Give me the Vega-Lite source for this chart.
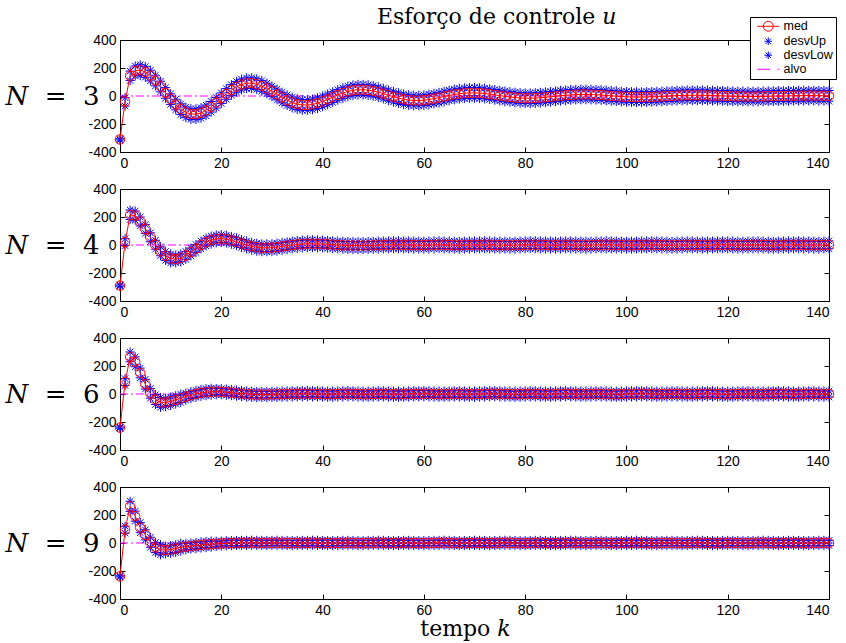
{
"$schema":"https://vega.github.io/schema/vega-lite/v6.json",
"background":"white",
"padding":{"left":4,"top":6,"right":4,"bottom":2},
"title":{"text":"Esforço de controle 𝑢","font":"DejaVu Serif","fontSize":22,"fontWeight":"normal","color":"black","anchor":"start","frame":"group","dx":257,"offset":-13},
"data":{"values":[
{"N":3,"k":0,"m":-310,"u":-305,"l":-314},{"N":3,"k":1,"m":-40,"u":-12,"l":-72},{"N":3,"k":2,"m":145,"u":178,"l":110},{"N":3,"k":3,"m":180,"u":215,"l":143},{"N":3,"k":4,"m":185,"u":223,"l":147},{"N":3,"k":5,"m":172,"u":210,"l":134},{"N":3,"k":6,"m":146,"u":184,"l":108},{"N":3,"k":7,"m":110,"u":148,"l":72},{"N":3,"k":8,"m":68,"u":106,"l":30},{"N":3,"k":9,"m":22,"u":60,"l":-16},
{"N":3,"k":10,"m":-22,"u":16,"l":-60},{"N":3,"k":11,"m":-61,"u":-23,"l":-99},{"N":3,"k":12,"m":-94,"u":-56,"l":-132},{"N":3,"k":13,"m":-117,"u":-79,"l":-155},{"N":3,"k":14,"m":-129,"u":-91,"l":-167},{"N":3,"k":15,"m":-130,"u":-92,"l":-168},{"N":3,"k":16,"m":-121,"u":-83,"l":-159},{"N":3,"k":17,"m":-103,"u":-65,"l":-141},{"N":3,"k":18,"m":-77,"u":-39,"l":-115},{"N":3,"k":19,"m":-48,"u":-10,"l":-86},
{"N":3,"k":20,"m":-16,"u":22,"l":-54},{"N":3,"k":21,"m":15,"u":53,"l":-23},{"N":3,"k":22,"m":43,"u":81,"l":5},{"N":3,"k":23,"m":66,"u":104,"l":28},{"N":3,"k":24,"m":82,"u":120,"l":44},{"N":3,"k":25,"m":91,"u":129,"l":53},{"N":3,"k":26,"m":92,"u":130,"l":54},{"N":3,"k":27,"m":85,"u":123,"l":47},{"N":3,"k":28,"m":72,"u":110,"l":34},{"N":3,"k":29,"m":54,"u":92,"l":16},
{"N":3,"k":30,"m":33,"u":71,"l":-5},{"N":3,"k":31,"m":11,"u":49,"l":-27},{"N":3,"k":32,"m":-11,"u":27,"l":-49},{"N":3,"k":33,"m":-30,"u":8,"l":-68},{"N":3,"k":34,"m":-46,"u":-8,"l":-84},{"N":3,"k":35,"m":-58,"u":-20,"l":-96},{"N":3,"k":36,"m":-64,"u":-26,"l":-102},{"N":3,"k":37,"m":-64,"u":-26,"l":-102},{"N":3,"k":38,"m":-60,"u":-22,"l":-98},{"N":3,"k":39,"m":-51,"u":-13,"l":-89},
{"N":3,"k":40,"m":-38,"u":0,"l":-76},{"N":3,"k":41,"m":-24,"u":14,"l":-62},{"N":3,"k":42,"m":-8,"u":30,"l":-46},{"N":3,"k":43,"m":8,"u":46,"l":-30},{"N":3,"k":44,"m":21,"u":59,"l":-17},{"N":3,"k":45,"m":33,"u":71,"l":-5},{"N":3,"k":46,"m":41,"u":79,"l":3},{"N":3,"k":47,"m":45,"u":83,"l":7},{"N":3,"k":48,"m":45,"u":83,"l":7},{"N":3,"k":49,"m":42,"u":80,"l":4},
{"N":3,"k":50,"m":36,"u":74,"l":-2},{"N":3,"k":51,"m":27,"u":65,"l":-11},{"N":3,"k":52,"m":17,"u":55,"l":-21},{"N":3,"k":53,"m":5,"u":43,"l":-33},{"N":3,"k":54,"m":-5,"u":33,"l":-43},{"N":3,"k":55,"m":-15,"u":23,"l":-53},{"N":3,"k":56,"m":-23,"u":15,"l":-61},{"N":3,"k":57,"m":-29,"u":9,"l":-67},{"N":3,"k":58,"m":-32,"u":6,"l":-70},{"N":3,"k":59,"m":-32,"u":6,"l":-70},
{"N":3,"k":60,"m":-30,"u":8,"l":-68},{"N":3,"k":61,"m":-25,"u":13,"l":-63},{"N":3,"k":62,"m":-19,"u":19,"l":-57},{"N":3,"k":63,"m":-12,"u":26,"l":-50},{"N":3,"k":64,"m":-4,"u":34,"l":-42},{"N":3,"k":65,"m":4,"u":42,"l":-34},{"N":3,"k":66,"m":11,"u":49,"l":-27},{"N":3,"k":67,"m":16,"u":54,"l":-22},{"N":3,"k":68,"m":20,"u":58,"l":-18},{"N":3,"k":69,"m":22,"u":60,"l":-16},
{"N":3,"k":70,"m":22,"u":60,"l":-16},{"N":3,"k":71,"m":21,"u":59,"l":-17},{"N":3,"k":72,"m":18,"u":56,"l":-20},{"N":3,"k":73,"m":13,"u":51,"l":-25},{"N":3,"k":74,"m":8,"u":46,"l":-30},{"N":3,"k":75,"m":3,"u":41,"l":-35},{"N":3,"k":76,"m":-3,"u":35,"l":-41},{"N":3,"k":77,"m":-7,"u":31,"l":-45},{"N":3,"k":78,"m":-11,"u":27,"l":-49},{"N":3,"k":79,"m":-14,"u":24,"l":-52},
{"N":3,"k":80,"m":-16,"u":22,"l":-54},{"N":3,"k":81,"m":-16,"u":22,"l":-54},{"N":3,"k":82,"m":-15,"u":23,"l":-53},{"N":3,"k":83,"m":-12,"u":26,"l":-50},{"N":3,"k":84,"m":-9,"u":29,"l":-47},{"N":3,"k":85,"m":-6,"u":32,"l":-44},{"N":3,"k":86,"m":-2,"u":36,"l":-40},{"N":3,"k":87,"m":2,"u":40,"l":-36},{"N":3,"k":88,"m":5,"u":43,"l":-33},{"N":3,"k":89,"m":8,"u":46,"l":-30},
{"N":3,"k":90,"m":10,"u":48,"l":-28},{"N":3,"k":91,"m":11,"u":49,"l":-27},{"N":3,"k":92,"m":11,"u":49,"l":-27},{"N":3,"k":93,"m":10,"u":48,"l":-28},{"N":3,"k":94,"m":9,"u":47,"l":-29},{"N":3,"k":95,"m":7,"u":45,"l":-31},{"N":3,"k":96,"m":4,"u":42,"l":-34},{"N":3,"k":97,"m":1,"u":39,"l":-37},{"N":3,"k":98,"m":-1,"u":37,"l":-39},{"N":3,"k":99,"m":-4,"u":34,"l":-42},
{"N":3,"k":100,"m":-6,"u":32,"l":-44},{"N":3,"k":101,"m":-7,"u":31,"l":-45},{"N":3,"k":102,"m":-8,"u":30,"l":-46},{"N":3,"k":103,"m":-8,"u":30,"l":-46},{"N":3,"k":104,"m":-7,"u":31,"l":-45},{"N":3,"k":105,"m":-6,"u":32,"l":-44},{"N":3,"k":106,"m":-5,"u":33,"l":-43},{"N":3,"k":107,"m":-3,"u":35,"l":-41},{"N":3,"k":108,"m":-1,"u":37,"l":-39},{"N":3,"k":109,"m":1,"u":39,"l":-37},
{"N":3,"k":110,"m":3,"u":41,"l":-35},{"N":3,"k":111,"m":4,"u":42,"l":-34},{"N":3,"k":112,"m":5,"u":43,"l":-33},{"N":3,"k":113,"m":5,"u":43,"l":-33},{"N":3,"k":114,"m":5,"u":43,"l":-33},{"N":3,"k":115,"m":5,"u":43,"l":-33},{"N":3,"k":116,"m":4,"u":42,"l":-34},{"N":3,"k":117,"m":3,"u":41,"l":-35},{"N":3,"k":118,"m":2,"u":40,"l":-36},{"N":3,"k":119,"m":1,"u":39,"l":-37},
{"N":3,"k":120,"m":-1,"u":37,"l":-39},{"N":3,"k":121,"m":-2,"u":36,"l":-40},{"N":3,"k":122,"m":-3,"u":35,"l":-41},{"N":3,"k":123,"m":-3,"u":35,"l":-41},{"N":3,"k":124,"m":-4,"u":34,"l":-42},{"N":3,"k":125,"m":-4,"u":34,"l":-42},{"N":3,"k":126,"m":-4,"u":34,"l":-42},{"N":3,"k":127,"m":-3,"u":35,"l":-41},{"N":3,"k":128,"m":-2,"u":36,"l":-40},{"N":3,"k":129,"m":-1,"u":37,"l":-39},
{"N":3,"k":130,"m":0,"u":38,"l":-38},{"N":3,"k":131,"m":0,"u":38,"l":-38},{"N":3,"k":132,"m":1,"u":39,"l":-37},{"N":3,"k":133,"m":2,"u":40,"l":-36},{"N":3,"k":134,"m":2,"u":40,"l":-36},{"N":3,"k":135,"m":3,"u":41,"l":-35},{"N":3,"k":136,"m":3,"u":41,"l":-35},{"N":3,"k":137,"m":3,"u":41,"l":-35},{"N":3,"k":138,"m":2,"u":40,"l":-36},{"N":3,"k":139,"m":2,"u":40,"l":-36},{"N":3,"k":140,"m":1,"u":39,"l":-37},
{"N":4,"k":0,"m":-290,"u":-286,"l":-294},{"N":4,"k":1,"m":20,"u":45,"l":-5},{"N":4,"k":2,"m":215,"u":250,"l":182},{"N":4,"k":3,"m":210,"u":243,"l":177},{"N":4,"k":4,"m":168,"u":200,"l":136},{"N":4,"k":5,"m":115,"u":147,"l":83},{"N":4,"k":6,"m":55,"u":87,"l":23},{"N":4,"k":7,"m":2,"u":34,"l":-30},{"N":4,"k":8,"m":-45,"u":-13,"l":-77},{"N":4,"k":9,"m":-78,"u":-46,"l":-110},
{"N":4,"k":10,"m":-96,"u":-64,"l":-128},{"N":4,"k":11,"m":-100,"u":-72,"l":-128},{"N":4,"k":12,"m":-92,"u":-64,"l":-120},{"N":4,"k":13,"m":-74,"u":-46,"l":-102},{"N":4,"k":14,"m":-50,"u":-22,"l":-78},{"N":4,"k":15,"m":-25,"u":3,"l":-53},{"N":4,"k":16,"m":0,"u":28,"l":-28},{"N":4,"k":17,"m":21,"u":49,"l":-7},{"N":4,"k":18,"m":35,"u":63,"l":7},{"N":4,"k":19,"m":44,"u":72,"l":16},
{"N":4,"k":20,"m":46,"u":74,"l":18},{"N":4,"k":21,"m":42,"u":70,"l":14},{"N":4,"k":22,"m":33,"u":61,"l":5},{"N":4,"k":23,"m":23,"u":51,"l":-5},{"N":4,"k":24,"m":11,"u":39,"l":-17},{"N":4,"k":25,"m":0,"u":28,"l":-28},{"N":4,"k":26,"m":-9,"u":19,"l":-37},{"N":4,"k":27,"m":-16,"u":12,"l":-44},{"N":4,"k":28,"m":-20,"u":8,"l":-48},{"N":4,"k":29,"m":-20,"u":8,"l":-48},
{"N":4,"k":30,"m":-19,"u":9,"l":-47},{"N":4,"k":31,"m":-15,"u":13,"l":-43},{"N":4,"k":32,"m":-10,"u":18,"l":-38},{"N":4,"k":33,"m":-5,"u":23,"l":-33},{"N":4,"k":34,"m":0,"u":28,"l":-28},{"N":4,"k":35,"m":4,"u":32,"l":-24},{"N":4,"k":36,"m":7,"u":35,"l":-21},{"N":4,"k":37,"m":9,"u":37,"l":-19},{"N":4,"k":38,"m":9,"u":37,"l":-19},{"N":4,"k":39,"m":8,"u":36,"l":-20},
{"N":4,"k":40,"m":7,"u":35,"l":-21},{"N":4,"k":41,"m":5,"u":33,"l":-23},{"N":4,"k":42,"m":2,"u":30,"l":-26},{"N":4,"k":43,"m":0,"u":28,"l":-28},{"N":4,"k":44,"m":-2,"u":26,"l":-30},{"N":4,"k":45,"m":-3,"u":25,"l":-31},{"N":4,"k":46,"m":-4,"u":24,"l":-32},{"N":4,"k":47,"m":-4,"u":24,"l":-32},{"N":4,"k":48,"m":-4,"u":24,"l":-32},{"N":4,"k":49,"m":-3,"u":25,"l":-31},
{"N":4,"k":50,"m":-2,"u":26,"l":-30},{"N":4,"k":51,"m":-1,"u":27,"l":-29},{"N":4,"k":52,"m":0,"u":28,"l":-28},{"N":4,"k":53,"m":1,"u":29,"l":-27},{"N":4,"k":54,"m":2,"u":30,"l":-26},{"N":4,"k":55,"m":2,"u":30,"l":-26},{"N":4,"k":56,"m":1,"u":29,"l":-27},{"N":4,"k":57,"m":1,"u":29,"l":-27},{"N":4,"k":58,"m":0,"u":28,"l":-28},{"N":4,"k":59,"m":-1,"u":27,"l":-29},
{"N":4,"k":60,"m":-1,"u":27,"l":-29},{"N":4,"k":61,"m":0,"u":28,"l":-28},{"N":4,"k":62,"m":1,"u":29,"l":-27},{"N":4,"k":63,"m":2,"u":30,"l":-26},{"N":4,"k":64,"m":1,"u":29,"l":-27},{"N":4,"k":65,"m":0,"u":28,"l":-28},{"N":4,"k":66,"m":-1,"u":27,"l":-29},{"N":4,"k":67,"m":-2,"u":26,"l":-30},{"N":4,"k":68,"m":-1,"u":27,"l":-29},{"N":4,"k":69,"m":0,"u":28,"l":-28},
{"N":4,"k":70,"m":1,"u":29,"l":-27},{"N":4,"k":71,"m":1,"u":29,"l":-27},{"N":4,"k":72,"m":2,"u":30,"l":-26},{"N":4,"k":73,"m":1,"u":29,"l":-27},{"N":4,"k":74,"m":0,"u":28,"l":-28},{"N":4,"k":75,"m":-1,"u":27,"l":-29},{"N":4,"k":76,"m":-1,"u":27,"l":-29},{"N":4,"k":77,"m":-2,"u":26,"l":-30},{"N":4,"k":78,"m":-1,"u":27,"l":-29},{"N":4,"k":79,"m":0,"u":28,"l":-28},
{"N":4,"k":80,"m":1,"u":29,"l":-27},{"N":4,"k":81,"m":2,"u":30,"l":-26},{"N":4,"k":82,"m":2,"u":30,"l":-26},{"N":4,"k":83,"m":1,"u":29,"l":-27},{"N":4,"k":84,"m":0,"u":28,"l":-28},{"N":4,"k":85,"m":-1,"u":27,"l":-29},{"N":4,"k":86,"m":-1,"u":27,"l":-29},{"N":4,"k":87,"m":0,"u":28,"l":-28},{"N":4,"k":88,"m":1,"u":29,"l":-27},{"N":4,"k":89,"m":1,"u":29,"l":-27},
{"N":4,"k":90,"m":0,"u":28,"l":-28},{"N":4,"k":91,"m":-1,"u":27,"l":-29},{"N":4,"k":92,"m":-2,"u":26,"l":-30},{"N":4,"k":93,"m":-1,"u":27,"l":-29},{"N":4,"k":94,"m":0,"u":28,"l":-28},{"N":4,"k":95,"m":1,"u":29,"l":-27},{"N":4,"k":96,"m":2,"u":30,"l":-26},{"N":4,"k":97,"m":1,"u":29,"l":-27},{"N":4,"k":98,"m":0,"u":28,"l":-28},{"N":4,"k":99,"m":0,"u":28,"l":-28},
{"N":4,"k":100,"m":-1,"u":27,"l":-29},{"N":4,"k":101,"m":-1,"u":27,"l":-29},{"N":4,"k":102,"m":0,"u":28,"l":-28},{"N":4,"k":103,"m":1,"u":29,"l":-27},{"N":4,"k":104,"m":1,"u":29,"l":-27},{"N":4,"k":105,"m":2,"u":30,"l":-26},{"N":4,"k":106,"m":1,"u":29,"l":-27},{"N":4,"k":107,"m":0,"u":28,"l":-28},{"N":4,"k":108,"m":-1,"u":27,"l":-29},{"N":4,"k":109,"m":-2,"u":26,"l":-30},
{"N":4,"k":110,"m":-1,"u":27,"l":-29},{"N":4,"k":111,"m":0,"u":28,"l":-28},{"N":4,"k":112,"m":1,"u":29,"l":-27},{"N":4,"k":113,"m":1,"u":29,"l":-27},{"N":4,"k":114,"m":0,"u":28,"l":-28},{"N":4,"k":115,"m":-1,"u":27,"l":-29},{"N":4,"k":116,"m":-1,"u":27,"l":-29},{"N":4,"k":117,"m":0,"u":28,"l":-28},{"N":4,"k":118,"m":1,"u":29,"l":-27},{"N":4,"k":119,"m":2,"u":30,"l":-26},
{"N":4,"k":120,"m":1,"u":29,"l":-27},{"N":4,"k":121,"m":0,"u":28,"l":-28},{"N":4,"k":122,"m":-1,"u":27,"l":-29},{"N":4,"k":123,"m":-1,"u":27,"l":-29},{"N":4,"k":124,"m":0,"u":28,"l":-28},{"N":4,"k":125,"m":1,"u":29,"l":-27},{"N":4,"k":126,"m":1,"u":29,"l":-27},{"N":4,"k":127,"m":0,"u":28,"l":-28},{"N":4,"k":128,"m":-1,"u":27,"l":-29},{"N":4,"k":129,"m":-2,"u":26,"l":-30},
{"N":4,"k":130,"m":-1,"u":27,"l":-29},{"N":4,"k":131,"m":0,"u":28,"l":-28},{"N":4,"k":132,"m":1,"u":29,"l":-27},{"N":4,"k":133,"m":1,"u":29,"l":-27},{"N":4,"k":134,"m":2,"u":30,"l":-26},{"N":4,"k":135,"m":1,"u":29,"l":-27},{"N":4,"k":136,"m":0,"u":28,"l":-28},{"N":4,"k":137,"m":-1,"u":27,"l":-29},{"N":4,"k":138,"m":-1,"u":27,"l":-29},{"N":4,"k":139,"m":0,"u":28,"l":-28},{"N":4,"k":140,"m":1,"u":29,"l":-27},
{"N":6,"k":0,"m":-240,"u":-236,"l":-244},{"N":6,"k":1,"m":85,"u":110,"l":60},{"N":6,"k":2,"m":265,"u":300,"l":230},{"N":6,"k":3,"m":230,"u":265,"l":195},{"N":6,"k":4,"m":150,"u":185,"l":115},{"N":6,"k":5,"m":70,"u":105,"l":35},{"N":6,"k":6,"m":5,"u":40,"l":-30},{"N":6,"k":7,"m":-40,"u":-5,"l":-75},{"N":6,"k":8,"m":-60,"u":-25,"l":-95},{"N":6,"k":9,"m":-60,"u":-30,"l":-90},
{"N":6,"k":10,"m":-52,"u":-22,"l":-82},{"N":6,"k":11,"m":-42,"u":-12,"l":-72},{"N":6,"k":12,"m":-31,"u":-1,"l":-61},{"N":6,"k":13,"m":-19,"u":6,"l":-44},{"N":6,"k":14,"m":-8,"u":17,"l":-33},{"N":6,"k":15,"m":1,"u":26,"l":-24},{"N":6,"k":16,"m":8,"u":33,"l":-17},{"N":6,"k":17,"m":13,"u":38,"l":-12},{"N":6,"k":18,"m":16,"u":41,"l":-9},{"N":6,"k":19,"m":17,"u":39,"l":-5},
{"N":6,"k":20,"m":16,"u":38,"l":-6},{"N":6,"k":21,"m":13,"u":35,"l":-9},{"N":6,"k":22,"m":10,"u":32,"l":-12},{"N":6,"k":23,"m":6,"u":28,"l":-16},{"N":6,"k":24,"m":3,"u":25,"l":-19},{"N":6,"k":25,"m":0,"u":22,"l":-22},{"N":6,"k":26,"m":-2,"u":20,"l":-24},{"N":6,"k":27,"m":-4,"u":18,"l":-26},{"N":6,"k":28,"m":-4,"u":18,"l":-26},{"N":6,"k":29,"m":-4,"u":18,"l":-26},
{"N":6,"k":30,"m":-3,"u":19,"l":-25},{"N":6,"k":31,"m":-2,"u":20,"l":-24},{"N":6,"k":32,"m":-1,"u":21,"l":-23},{"N":6,"k":33,"m":0,"u":22,"l":-22},{"N":6,"k":34,"m":1,"u":23,"l":-21},{"N":6,"k":35,"m":1,"u":23,"l":-21},{"N":6,"k":36,"m":2,"u":24,"l":-20},{"N":6,"k":37,"m":2,"u":24,"l":-20},{"N":6,"k":38,"m":1,"u":23,"l":-21},{"N":6,"k":39,"m":1,"u":23,"l":-21},
{"N":6,"k":40,"m":0,"u":22,"l":-22},{"N":6,"k":41,"m":-1,"u":21,"l":-23},{"N":6,"k":42,"m":-1,"u":21,"l":-23},{"N":6,"k":43,"m":0,"u":22,"l":-22},{"N":6,"k":44,"m":1,"u":23,"l":-21},{"N":6,"k":45,"m":2,"u":24,"l":-20},{"N":6,"k":46,"m":1,"u":23,"l":-21},{"N":6,"k":47,"m":0,"u":22,"l":-22},{"N":6,"k":48,"m":-1,"u":21,"l":-23},{"N":6,"k":49,"m":-1,"u":21,"l":-23},
{"N":6,"k":50,"m":0,"u":22,"l":-22},{"N":6,"k":51,"m":1,"u":23,"l":-21},{"N":6,"k":52,"m":1,"u":23,"l":-21},{"N":6,"k":53,"m":0,"u":22,"l":-22},{"N":6,"k":54,"m":-1,"u":21,"l":-23},{"N":6,"k":55,"m":-2,"u":20,"l":-24},{"N":6,"k":56,"m":-1,"u":21,"l":-23},{"N":6,"k":57,"m":0,"u":22,"l":-22},{"N":6,"k":58,"m":1,"u":23,"l":-21},{"N":6,"k":59,"m":1,"u":23,"l":-21},
{"N":6,"k":60,"m":2,"u":24,"l":-20},{"N":6,"k":61,"m":1,"u":23,"l":-21},{"N":6,"k":62,"m":0,"u":22,"l":-22},{"N":6,"k":63,"m":-1,"u":21,"l":-23},{"N":6,"k":64,"m":-1,"u":21,"l":-23},{"N":6,"k":65,"m":0,"u":22,"l":-22},{"N":6,"k":66,"m":1,"u":23,"l":-21},{"N":6,"k":67,"m":1,"u":23,"l":-21},{"N":6,"k":68,"m":0,"u":22,"l":-22},{"N":6,"k":69,"m":-1,"u":21,"l":-23},
{"N":6,"k":70,"m":-1,"u":21,"l":-23},{"N":6,"k":71,"m":0,"u":22,"l":-22},{"N":6,"k":72,"m":1,"u":23,"l":-21},{"N":6,"k":73,"m":2,"u":24,"l":-20},{"N":6,"k":74,"m":2,"u":24,"l":-20},{"N":6,"k":75,"m":1,"u":23,"l":-21},{"N":6,"k":76,"m":0,"u":22,"l":-22},{"N":6,"k":77,"m":-1,"u":21,"l":-23},{"N":6,"k":78,"m":-2,"u":20,"l":-24},{"N":6,"k":79,"m":-1,"u":21,"l":-23},
{"N":6,"k":80,"m":0,"u":22,"l":-22},{"N":6,"k":81,"m":1,"u":23,"l":-21},{"N":6,"k":82,"m":1,"u":23,"l":-21},{"N":6,"k":83,"m":0,"u":22,"l":-22},{"N":6,"k":84,"m":-1,"u":21,"l":-23},{"N":6,"k":85,"m":-1,"u":21,"l":-23},{"N":6,"k":86,"m":0,"u":22,"l":-22},{"N":6,"k":87,"m":1,"u":23,"l":-21},{"N":6,"k":88,"m":2,"u":24,"l":-20},{"N":6,"k":89,"m":1,"u":23,"l":-21},
{"N":6,"k":90,"m":0,"u":22,"l":-22},{"N":6,"k":91,"m":-1,"u":21,"l":-23},{"N":6,"k":92,"m":-1,"u":21,"l":-23},{"N":6,"k":93,"m":0,"u":22,"l":-22},{"N":6,"k":94,"m":1,"u":23,"l":-21},{"N":6,"k":95,"m":1,"u":23,"l":-21},{"N":6,"k":96,"m":0,"u":22,"l":-22},{"N":6,"k":97,"m":-1,"u":21,"l":-23},{"N":6,"k":98,"m":-2,"u":20,"l":-24},{"N":6,"k":99,"m":-1,"u":21,"l":-23},
{"N":6,"k":100,"m":0,"u":22,"l":-22},{"N":6,"k":101,"m":1,"u":23,"l":-21},{"N":6,"k":102,"m":1,"u":23,"l":-21},{"N":6,"k":103,"m":2,"u":24,"l":-20},{"N":6,"k":104,"m":1,"u":23,"l":-21},{"N":6,"k":105,"m":0,"u":22,"l":-22},{"N":6,"k":106,"m":-1,"u":21,"l":-23},{"N":6,"k":107,"m":-1,"u":21,"l":-23},{"N":6,"k":108,"m":0,"u":22,"l":-22},{"N":6,"k":109,"m":1,"u":23,"l":-21},
{"N":6,"k":110,"m":1,"u":23,"l":-21},{"N":6,"k":111,"m":0,"u":22,"l":-22},{"N":6,"k":112,"m":-1,"u":21,"l":-23},{"N":6,"k":113,"m":-1,"u":21,"l":-23},{"N":6,"k":114,"m":0,"u":22,"l":-22},{"N":6,"k":115,"m":1,"u":23,"l":-21},{"N":6,"k":116,"m":2,"u":24,"l":-20},{"N":6,"k":117,"m":1,"u":23,"l":-21},{"N":6,"k":118,"m":0,"u":22,"l":-22},{"N":6,"k":119,"m":-1,"u":21,"l":-23},
{"N":6,"k":120,"m":-2,"u":20,"l":-24},{"N":6,"k":121,"m":-1,"u":21,"l":-23},{"N":6,"k":122,"m":0,"u":22,"l":-22},{"N":6,"k":123,"m":1,"u":23,"l":-21},{"N":6,"k":124,"m":1,"u":23,"l":-21},{"N":6,"k":125,"m":0,"u":22,"l":-22},{"N":6,"k":126,"m":-1,"u":21,"l":-23},{"N":6,"k":127,"m":-1,"u":21,"l":-23},{"N":6,"k":128,"m":0,"u":22,"l":-22},{"N":6,"k":129,"m":1,"u":23,"l":-21},
{"N":6,"k":130,"m":2,"u":24,"l":-20},{"N":6,"k":131,"m":1,"u":23,"l":-21},{"N":6,"k":132,"m":0,"u":22,"l":-22},{"N":6,"k":133,"m":-1,"u":21,"l":-23},{"N":6,"k":134,"m":-1,"u":21,"l":-23},{"N":6,"k":135,"m":0,"u":22,"l":-22},{"N":6,"k":136,"m":1,"u":23,"l":-21},{"N":6,"k":137,"m":1,"u":23,"l":-21},{"N":6,"k":138,"m":0,"u":22,"l":-22},{"N":6,"k":139,"m":-1,"u":21,"l":-23},{"N":6,"k":140,"m":0,"u":22,"l":-22},
{"N":9,"k":0,"m":-238,"u":-234,"l":-242},{"N":9,"k":1,"m":95,"u":120,"l":70},{"N":9,"k":2,"m":262,"u":298,"l":226},{"N":9,"k":3,"m":192,"u":228,"l":156},{"N":9,"k":4,"m":110,"u":146,"l":74},{"N":9,"k":5,"m":58,"u":94,"l":22},{"N":9,"k":6,"m":5,"u":41,"l":-31},{"N":9,"k":7,"m":-32,"u":4,"l":-68},{"N":9,"k":8,"m":-48,"u":-12,"l":-84},{"N":9,"k":9,"m":-50,"u":-22,"l":-78},
{"N":9,"k":10,"m":-46,"u":-18,"l":-74},{"N":9,"k":11,"m":-40,"u":-12,"l":-68},{"N":9,"k":12,"m":-30,"u":-2,"l":-58},{"N":9,"k":13,"m":-26,"u":-4,"l":-48},{"N":9,"k":14,"m":-22,"u":0,"l":-44},{"N":9,"k":15,"m":-18,"u":4,"l":-40},{"N":9,"k":16,"m":-14,"u":8,"l":-36},{"N":9,"k":17,"m":-11,"u":11,"l":-33},{"N":9,"k":18,"m":-8,"u":14,"l":-30},{"N":9,"k":19,"m":-6,"u":12,"l":-24},
{"N":9,"k":20,"m":-4,"u":14,"l":-22},{"N":9,"k":21,"m":-2,"u":16,"l":-20},{"N":9,"k":22,"m":-1,"u":17,"l":-19},{"N":9,"k":23,"m":0,"u":18,"l":-18},{"N":9,"k":24,"m":1,"u":19,"l":-17},{"N":9,"k":25,"m":1,"u":19,"l":-17},{"N":9,"k":26,"m":2,"u":20,"l":-16},{"N":9,"k":27,"m":1,"u":19,"l":-17},{"N":9,"k":28,"m":1,"u":19,"l":-17},{"N":9,"k":29,"m":0,"u":18,"l":-18},
{"N":9,"k":30,"m":1,"u":19,"l":-17},{"N":9,"k":31,"m":2,"u":20,"l":-16},{"N":9,"k":32,"m":1,"u":19,"l":-17},{"N":9,"k":33,"m":0,"u":18,"l":-18},{"N":9,"k":34,"m":-1,"u":17,"l":-19},{"N":9,"k":35,"m":0,"u":18,"l":-18},{"N":9,"k":36,"m":1,"u":19,"l":-17},{"N":9,"k":37,"m":1,"u":19,"l":-17},{"N":9,"k":38,"m":2,"u":20,"l":-16},{"N":9,"k":39,"m":1,"u":19,"l":-17},
{"N":9,"k":40,"m":0,"u":18,"l":-18},{"N":9,"k":41,"m":0,"u":18,"l":-18},{"N":9,"k":42,"m":-1,"u":17,"l":-19},{"N":9,"k":43,"m":0,"u":18,"l":-18},{"N":9,"k":44,"m":1,"u":19,"l":-17},{"N":9,"k":45,"m":1,"u":19,"l":-17},{"N":9,"k":46,"m":0,"u":18,"l":-18},{"N":9,"k":47,"m":-1,"u":17,"l":-19},{"N":9,"k":48,"m":-1,"u":17,"l":-19},{"N":9,"k":49,"m":0,"u":18,"l":-18},
{"N":9,"k":50,"m":1,"u":19,"l":-17},{"N":9,"k":51,"m":2,"u":20,"l":-16},{"N":9,"k":52,"m":1,"u":19,"l":-17},{"N":9,"k":53,"m":0,"u":18,"l":-18},{"N":9,"k":54,"m":-1,"u":17,"l":-19},{"N":9,"k":55,"m":0,"u":18,"l":-18},{"N":9,"k":56,"m":1,"u":19,"l":-17},{"N":9,"k":57,"m":1,"u":19,"l":-17},{"N":9,"k":58,"m":0,"u":18,"l":-18},{"N":9,"k":59,"m":-1,"u":17,"l":-19},
{"N":9,"k":60,"m":-1,"u":17,"l":-19},{"N":9,"k":61,"m":0,"u":18,"l":-18},{"N":9,"k":62,"m":1,"u":19,"l":-17},{"N":9,"k":63,"m":1,"u":19,"l":-17},{"N":9,"k":64,"m":2,"u":20,"l":-16},{"N":9,"k":65,"m":1,"u":19,"l":-17},{"N":9,"k":66,"m":0,"u":18,"l":-18},{"N":9,"k":67,"m":-1,"u":17,"l":-19},{"N":9,"k":68,"m":-1,"u":17,"l":-19},{"N":9,"k":69,"m":0,"u":18,"l":-18},
{"N":9,"k":70,"m":1,"u":19,"l":-17},{"N":9,"k":71,"m":1,"u":19,"l":-17},{"N":9,"k":72,"m":0,"u":18,"l":-18},{"N":9,"k":73,"m":-1,"u":17,"l":-19},{"N":9,"k":74,"m":0,"u":18,"l":-18},{"N":9,"k":75,"m":1,"u":19,"l":-17},{"N":9,"k":76,"m":2,"u":20,"l":-16},{"N":9,"k":77,"m":1,"u":19,"l":-17},{"N":9,"k":78,"m":0,"u":18,"l":-18},{"N":9,"k":79,"m":-1,"u":17,"l":-19},
{"N":9,"k":80,"m":-1,"u":17,"l":-19},{"N":9,"k":81,"m":0,"u":18,"l":-18},{"N":9,"k":82,"m":1,"u":19,"l":-17},{"N":9,"k":83,"m":1,"u":19,"l":-17},{"N":9,"k":84,"m":0,"u":18,"l":-18},{"N":9,"k":85,"m":-1,"u":17,"l":-19},{"N":9,"k":86,"m":-1,"u":17,"l":-19},{"N":9,"k":87,"m":0,"u":18,"l":-18},{"N":9,"k":88,"m":1,"u":19,"l":-17},{"N":9,"k":89,"m":2,"u":20,"l":-16},
{"N":9,"k":90,"m":1,"u":19,"l":-17},{"N":9,"k":91,"m":0,"u":18,"l":-18},{"N":9,"k":92,"m":-1,"u":17,"l":-19},{"N":9,"k":93,"m":0,"u":18,"l":-18},{"N":9,"k":94,"m":1,"u":19,"l":-17},{"N":9,"k":95,"m":1,"u":19,"l":-17},{"N":9,"k":96,"m":0,"u":18,"l":-18},{"N":9,"k":97,"m":-1,"u":17,"l":-19},{"N":9,"k":98,"m":-1,"u":17,"l":-19},{"N":9,"k":99,"m":0,"u":18,"l":-18},
{"N":9,"k":100,"m":1,"u":19,"l":-17},{"N":9,"k":101,"m":1,"u":19,"l":-17},{"N":9,"k":102,"m":2,"u":20,"l":-16},{"N":9,"k":103,"m":1,"u":19,"l":-17},{"N":9,"k":104,"m":0,"u":18,"l":-18},{"N":9,"k":105,"m":-1,"u":17,"l":-19},{"N":9,"k":106,"m":-1,"u":17,"l":-19},{"N":9,"k":107,"m":0,"u":18,"l":-18},{"N":9,"k":108,"m":1,"u":19,"l":-17},{"N":9,"k":109,"m":1,"u":19,"l":-17},
{"N":9,"k":110,"m":0,"u":18,"l":-18},{"N":9,"k":111,"m":-1,"u":17,"l":-19},{"N":9,"k":112,"m":0,"u":18,"l":-18},{"N":9,"k":113,"m":1,"u":19,"l":-17},{"N":9,"k":114,"m":2,"u":20,"l":-16},{"N":9,"k":115,"m":1,"u":19,"l":-17},{"N":9,"k":116,"m":0,"u":18,"l":-18},{"N":9,"k":117,"m":-1,"u":17,"l":-19},{"N":9,"k":118,"m":-1,"u":17,"l":-19},{"N":9,"k":119,"m":0,"u":18,"l":-18},
{"N":9,"k":120,"m":1,"u":19,"l":-17},{"N":9,"k":121,"m":1,"u":19,"l":-17},{"N":9,"k":122,"m":0,"u":18,"l":-18},{"N":9,"k":123,"m":-1,"u":17,"l":-19},{"N":9,"k":124,"m":-1,"u":17,"l":-19},{"N":9,"k":125,"m":0,"u":18,"l":-18},{"N":9,"k":126,"m":1,"u":19,"l":-17},{"N":9,"k":127,"m":2,"u":20,"l":-16},{"N":9,"k":128,"m":1,"u":19,"l":-17},{"N":9,"k":129,"m":0,"u":18,"l":-18},
{"N":9,"k":130,"m":-1,"u":17,"l":-19},{"N":9,"k":131,"m":0,"u":18,"l":-18},{"N":9,"k":132,"m":1,"u":19,"l":-17},{"N":9,"k":133,"m":1,"u":19,"l":-17},{"N":9,"k":134,"m":0,"u":18,"l":-18},{"N":9,"k":135,"m":-1,"u":17,"l":-19},{"N":9,"k":136,"m":-1,"u":17,"l":-19},{"N":9,"k":137,"m":0,"u":18,"l":-18},{"N":9,"k":138,"m":1,"u":19,"l":-17},{"N":9,"k":139,"m":1,"u":19,"l":-17},{"N":9,"k":140,"m":0,"u":18,"l":-18}
]},
"transform":[{"fold":["m","u","l"],"as":["s","v"]}],
"spacing":37,
"bounds":"flush",
"resolve":{"scale":{"color":"independent","shape":"independent"},"legend":{"color":"independent","shape":"independent"}},
"vconcat":[
{"width":709,"height":112,"transform":[{"filter":"datum.N == 3"}],"resolve":{"axis":{"x":"independent","y":"independent"}},
"layer":[
{"transform":[{"filter":"datum.k == 0 && datum.s == 'm'"}],"mark":{"type":"rule","color":"#ff00ff","strokeWidth":1.2,"strokeDash":[8,3,2,3]},
"encoding":{"x":{"datum":0,"type":"quantitative","scale":{"domain":[0,140],"nice":false},"axis":{"orient":"top","labels":false,"title":null,"values":[0,20,40,60,80,100,120,140]}},"x2":{"datum":140},
"y":{"datum":0,"type":"quantitative","scale":{"domain":[-400,400],"nice":false},"axis":{"orient":"right","labels":false,"title":null,"values":[-400,-200,0,200,400]}}}},
{"transform":[{"filter":"datum.s != 'm'"}],"mark":{"type":"point","filled":false,"size":115,"strokeWidth":1,"opacity":1},
"encoding":{"x":{"field":"k","type":"quantitative","axis":{"orient":"bottom","values":[0,20,40,60,80,100,120,140],"title":null}},
"y":{"field":"v","type":"quantitative","axis":{"orient":"left","values":[-400,-200,0,200,400],"labelExpr":"'' + datum.value","title":"𝑁\u00a0\u00a0=\u00a0\u00a03","titleAngle":0,"titleAlign":"left","titleBaseline":"middle","titleX":-115,"titleY":56,"titleFont":"DejaVu Serif","titleFontSize":26,"titleFontWeight":"normal"}},
"color":{"field":"s","type":"nominal","scale":{"domain":["m","u","l","a"],"range":["#ff0000","#0000ff","#0000ff","#ff00ff"]},
"legend":{"orient":"none","legendX":630,"legendY":-23,"title":null,"direction":"vertical","labelExpr":"datum.label == 'm' ? 'med' : datum.label == 'u' ? 'desvUp' : datum.label == 'l' ? 'desvLow\u00a0' : 'alvo'","labelFont":"Liberation Sans","labelFontSize":12.5,"labelColor":"black","labelOffset":9,"symbolSize":81,"symbolStrokeWidth":1,"symbolOpacity":1,"strokeColor":"black","fillColor":"white","padding":3,"rowPadding":1,"symbolOffset":9}},
"shape":{"field":"s","type":"nominal","scale":{"domain":["m","u","l","a"],"range":["M-2.45,0H2.45M1.1,0A1.1,1.1 0 1,1 -1.1,0A1.1,1.1 0 1,1 1.1,0","M-0.85,0H0.85M0,-0.85V0.85M-0.6,-0.6L0.6,0.6M-0.6,0.6L0.6,-0.6","M-0.85,0H0.85M0,-0.85V0.85M-0.6,-0.6L0.6,0.6M-0.6,0.6L0.6,-0.6","M-2.45,0H0.45M2.1,0H2.45"]},
"legend":{"orient":"none","legendX":630,"legendY":-23,"title":null,"direction":"vertical","labelExpr":"datum.label == 'm' ? 'med' : datum.label == 'u' ? 'desvUp' : datum.label == 'l' ? 'desvLow\u00a0' : 'alvo'","labelFont":"Liberation Sans","labelFontSize":12.5,"labelColor":"black","labelOffset":9,"symbolSize":81,"symbolStrokeWidth":1,"symbolOpacity":1,"strokeColor":"black","fillColor":"white","padding":3,"rowPadding":1,"symbolOffset":9}}}},
{"transform":[{"filter":"datum.s == 'm'"}],"mark":{"type":"line","color":"#ff0000","strokeWidth":1},"encoding":{"x":{"field":"k","type":"quantitative","axis":null},"y":{"field":"v","type":"quantitative","axis":null}}},
{"transform":[{"filter":"datum.s == 'm'"}],"mark":{"type":"point","filled":false,"color":"#ff0000","shape":"circle","size":90,"strokeWidth":1,"opacity":1},"encoding":{"x":{"field":"k","type":"quantitative","axis":null},"y":{"field":"v","type":"quantitative","axis":null}}}
]},
{"width":709,"height":112,"transform":[{"filter":"datum.N == 4"}],"resolve":{"axis":{"x":"independent","y":"independent"}},
"layer":[
{"transform":[{"filter":"datum.k == 0 && datum.s == 'm'"}],"mark":{"type":"rule","color":"#ff00ff","strokeWidth":1.2,"strokeDash":[8,3,2,3]},
"encoding":{"x":{"datum":0,"type":"quantitative","scale":{"domain":[0,140],"nice":false},"axis":{"orient":"top","labels":false,"title":null,"values":[0,20,40,60,80,100,120,140]}},"x2":{"datum":140},
"y":{"datum":0,"type":"quantitative","scale":{"domain":[-400,400],"nice":false},"axis":{"orient":"right","labels":false,"title":null,"values":[-400,-200,0,200,400]}}}},
{"transform":[{"filter":"datum.s != 'm'"}],"mark":{"type":"point","filled":false,"color":"#0000ff","shape":"M-0.85,0H0.85M0,-0.85V0.85M-0.6,-0.6L0.6,0.6M-0.6,0.6L0.6,-0.6","size":115,"strokeWidth":1,"opacity":1},
"encoding":{"x":{"field":"k","type":"quantitative","axis":{"orient":"bottom","values":[0,20,40,60,80,100,120,140],"title":null}},
"y":{"field":"v","type":"quantitative","axis":{"orient":"left","values":[-400,-200,0,200,400],"labelExpr":"'' + datum.value","title":"𝑁\u00a0\u00a0=\u00a0\u00a04","titleAngle":0,"titleAlign":"left","titleBaseline":"middle","titleX":-115,"titleY":56,"titleFont":"DejaVu Serif","titleFontSize":26,"titleFontWeight":"normal"}}}},
{"transform":[{"filter":"datum.s == 'm'"}],"mark":{"type":"line","color":"#ff0000","strokeWidth":1},"encoding":{"x":{"field":"k","type":"quantitative","axis":null},"y":{"field":"v","type":"quantitative","axis":null}}},
{"transform":[{"filter":"datum.s == 'm'"}],"mark":{"type":"point","filled":false,"color":"#ff0000","shape":"circle","size":90,"strokeWidth":1,"opacity":1},"encoding":{"x":{"field":"k","type":"quantitative","axis":null},"y":{"field":"v","type":"quantitative","axis":null}}}
]},
{"width":709,"height":112,"transform":[{"filter":"datum.N == 6"}],"resolve":{"axis":{"x":"independent","y":"independent"}},
"layer":[
{"transform":[{"filter":"datum.k == 0 && datum.s == 'm'"}],"mark":{"type":"rule","color":"#ff00ff","strokeWidth":1.2,"strokeDash":[8,3,2,3]},
"encoding":{"x":{"datum":0,"type":"quantitative","scale":{"domain":[0,140],"nice":false},"axis":{"orient":"top","labels":false,"title":null,"values":[0,20,40,60,80,100,120,140]}},"x2":{"datum":140},
"y":{"datum":0,"type":"quantitative","scale":{"domain":[-400,400],"nice":false},"axis":{"orient":"right","labels":false,"title":null,"values":[-400,-200,0,200,400]}}}},
{"transform":[{"filter":"datum.s != 'm'"}],"mark":{"type":"point","filled":false,"color":"#0000ff","shape":"M-0.85,0H0.85M0,-0.85V0.85M-0.6,-0.6L0.6,0.6M-0.6,0.6L0.6,-0.6","size":115,"strokeWidth":1,"opacity":1},
"encoding":{"x":{"field":"k","type":"quantitative","axis":{"orient":"bottom","values":[0,20,40,60,80,100,120,140],"title":null}},
"y":{"field":"v","type":"quantitative","axis":{"orient":"left","values":[-400,-200,0,200,400],"labelExpr":"'' + datum.value","title":"𝑁\u00a0\u00a0=\u00a0\u00a06","titleAngle":0,"titleAlign":"left","titleBaseline":"middle","titleX":-115,"titleY":56,"titleFont":"DejaVu Serif","titleFontSize":26,"titleFontWeight":"normal"}}}},
{"transform":[{"filter":"datum.s == 'm'"}],"mark":{"type":"line","color":"#ff0000","strokeWidth":1},"encoding":{"x":{"field":"k","type":"quantitative","axis":null},"y":{"field":"v","type":"quantitative","axis":null}}},
{"transform":[{"filter":"datum.s == 'm'"}],"mark":{"type":"point","filled":false,"color":"#ff0000","shape":"circle","size":90,"strokeWidth":1,"opacity":1},"encoding":{"x":{"field":"k","type":"quantitative","axis":null},"y":{"field":"v","type":"quantitative","axis":null}}}
]},
{"width":709,"height":112,"transform":[{"filter":"datum.N == 9"}],"resolve":{"axis":{"x":"independent","y":"independent"}},
"layer":[
{"transform":[{"filter":"datum.k == 0 && datum.s == 'm'"}],"mark":{"type":"rule","color":"#ff00ff","strokeWidth":1.2,"strokeDash":[8,3,2,3]},
"encoding":{"x":{"datum":0,"type":"quantitative","scale":{"domain":[0,140],"nice":false},"axis":{"orient":"top","labels":false,"title":null,"values":[0,20,40,60,80,100,120,140]}},"x2":{"datum":140},
"y":{"datum":0,"type":"quantitative","scale":{"domain":[-400,400],"nice":false},"axis":{"orient":"right","labels":false,"title":null,"values":[-400,-200,0,200,400]}}}},
{"transform":[{"filter":"datum.s != 'm'"}],"mark":{"type":"point","filled":false,"color":"#0000ff","shape":"M-0.85,0H0.85M0,-0.85V0.85M-0.6,-0.6L0.6,0.6M-0.6,0.6L0.6,-0.6","size":115,"strokeWidth":1,"opacity":1},
"encoding":{"x":{"field":"k","type":"quantitative","axis":{"orient":"bottom","values":[0,20,40,60,80,100,120,140],"title":"tempo 𝑘","titleFont":"DejaVu Serif","titleFontSize":22,"titleFontWeight":"normal","titleX":345,"titleY":36,"titleBaseline":"alphabetic"}},
"y":{"field":"v","type":"quantitative","axis":{"orient":"left","values":[-400,-200,0,200,400],"labelExpr":"'' + datum.value","title":"𝑁\u00a0\u00a0=\u00a0\u00a09","titleAngle":0,"titleAlign":"left","titleBaseline":"middle","titleX":-115,"titleY":56,"titleFont":"DejaVu Serif","titleFontSize":26,"titleFontWeight":"normal"}}}},
{"transform":[{"filter":"datum.s == 'm'"}],"mark":{"type":"line","color":"#ff0000","strokeWidth":1},"encoding":{"x":{"field":"k","type":"quantitative","axis":null},"y":{"field":"v","type":"quantitative","axis":null}}},
{"transform":[{"filter":"datum.s == 'm'"}],"mark":{"type":"point","filled":false,"color":"#ff0000","shape":"circle","size":90,"strokeWidth":1,"opacity":1},"encoding":{"x":{"field":"k","type":"quantitative","axis":null},"y":{"field":"v","type":"quantitative","axis":null}}}
]}
],
"config":{
"view":{"stroke":"black","strokeWidth":1},
"axis":{"grid":false,"domain":false,"tickColor":"black","tickSize":-5,"tickWidth":1,"labelFont":"Liberation Sans","labelFontSize":14,"labelColor":"black","labelPadding":9,"titleColor":"black"}
}
}
